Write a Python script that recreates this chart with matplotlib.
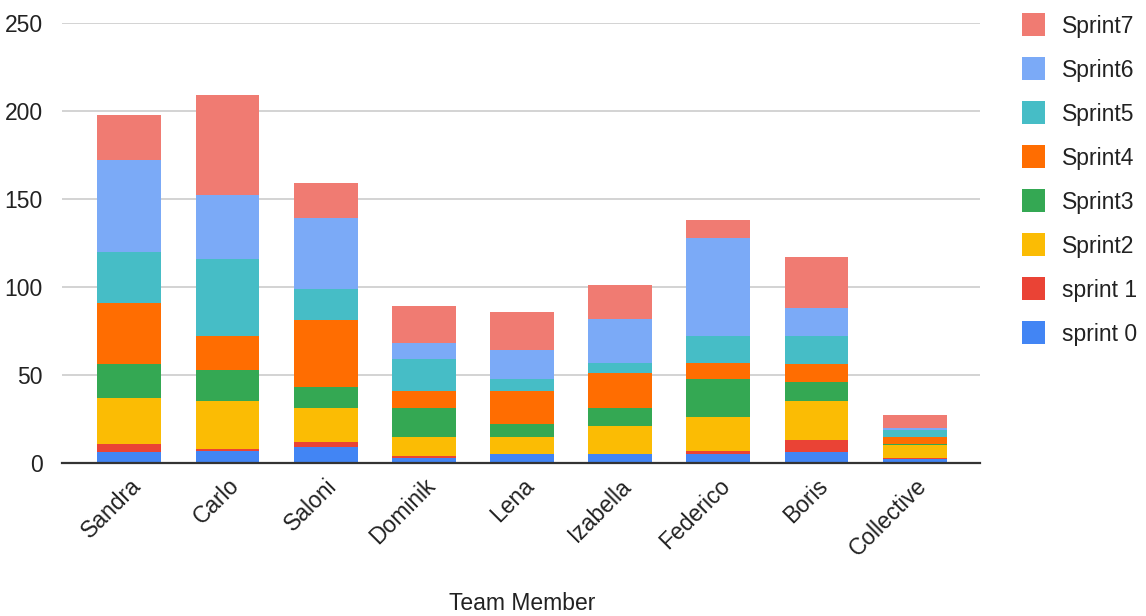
import numpy as np
import matplotlib
matplotlib.use("Agg")
import matplotlib.pyplot as plt
from matplotlib.patches import Rectangle

plt.rcParams['font.family'] = ['Liberation Sans', 'DejaVu Sans']

# data
members = ["Sandra", "Carlo", "Saloni", "Dominik", "Lena", "Izabella",
           "Federico", "Boris", "Collective"]
sprint0 = [6, 7, 9, 3, 5, 5, 5, 6, 2]
sprint1 = [5, 1, 3, 1, 0, 0, 2, 7, 1]
sprint2 = [26, 27, 19, 11, 10, 16, 19, 22, 7]
sprint3 = [19, 18, 12, 16, 7, 10, 22, 11, 1]
sprint4 = [35, 19, 38, 10, 19, 20, 9, 10, 4]
sprint5 = [29, 44, 18, 18, 7, 6, 15, 16, 4]
sprint6 = [52, 36, 40, 9, 16, 25, 56, 16, 1]
sprint7 = [26, 57, 20, 21, 22, 19, 10, 29, 7]

series = [sprint0, sprint1, sprint2, sprint3, sprint4, sprint5, sprint6, sprint7]
labels = ["sprint 0", "sprint 1", "Sprint2", "Sprint3", "Sprint4",
          "Sprint5", "Sprint6", "Sprint7"]
colors = ["#4285F4", "#EA4335", "#FBBC04", "#34A853", "#FF6D01",
          "#46BDC6", "#7BAAF7", "#F07B72"]

W, H = 1146, 616
fig = plt.figure(figsize=(W / 100, H / 100), dpi=100)
ax = fig.add_axes([62 / W, 1 - 463 / H, 918 / W, 440 / H])

x = np.arange(len(members))
bottom = np.zeros(len(members))
for vals, lab, col in zip(series, labels, colors):
    ax.bar(x, vals, bottom=bottom, width=0.65, color=col, label=lab,
           linewidth=0, zorder=3)
    bottom += np.array(vals)

ax.set_ylim(0, 250)
ax.set_xlim(-0.685, 8.665)
ax.set_yticks([0, 50, 100, 150, 200, 250])
ax.grid(axis='y', color='#cccccc', linewidth=1.2, zorder=0)
for s in ['top', 'right', 'left']:
    ax.spines[s].set_visible(False)
ax.spines['bottom'].set_color('#333333')
ax.spines['bottom'].set_linewidth(1.6)
ax.spines['bottom'].set_zorder(4)

ax.tick_params(axis='y', length=0, pad=14, labelsize=16.5, labelcolor='#222222')
ax.tick_params(axis='x', length=0, pad=8, labelsize=16.5, labelcolor='#222222')
ax.set_xticks(x)
ax.set_xticklabels(members, rotation=45, ha='right', rotation_mode='anchor')

fig.text(522 / W, 1 - 603 / H, "Team Member", ha='center', va='center',
         fontsize=16.5, color='#222222')

# legend, drawn by hand (top entry = last series)
for i, (lab, col) in enumerate(zip(labels[::-1], colors[::-1])):
    cy = 24 + 44 * i
    fig.patches.append(Rectangle((1022 / W, 1 - (cy + 11.5) / H), 23 / W, 23 / H,
                                 transform=fig.transFigure, facecolor=col,
                                 edgecolor='none'))
    fig.text(1062 / W, 1 - cy / H, lab, ha='left', va='center_baseline',
             fontsize=16.5, color='#222222')

fig.savefig("out.png", dpi=100)
